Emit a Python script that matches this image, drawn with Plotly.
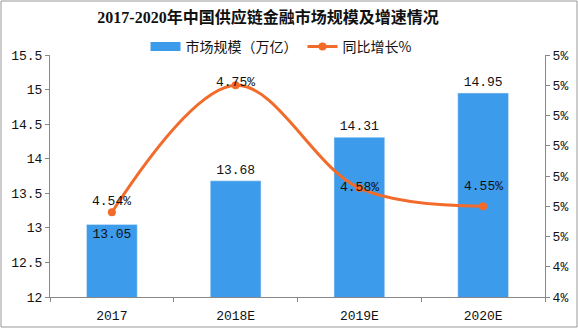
import plotly.graph_objects as go

categories = ["2017", "2018E", "2019E", "2020E"]
market_size = [13.05, 13.68, 14.31, 14.95]
growth = [4.54, 4.75, 4.58, 4.55]
left_ticks = [12, 12.5, 13, 13.5, 14, 14.5, 15, 15.5]
left_ticktext = ["12", "12.5", "13", "13.5", "14", "14.5", "15", "15.5"]
right_ticks = [4.40, 4.45, 4.50, 4.55, 4.60, 4.65, 4.70, 4.75, 4.80]
right_ticktext = ["4%", "4%", "5%", "5%", "5%", "5%", "5%", "5%", "5%"]

W, H = 578, 328
ml, mr, mt, mb = 50, 33, 55, 31

mono = "Liberation Mono, DejaVu Sans Mono, Noto Sans CJK SC"
cjk = "Noto Sans CJK SC"
blue = "#3D9BEB"
orange = "#F26B2A"

fig = go.Figure()
fig.add_trace(go.Bar(
    x=categories, y=market_size, name="市场规模（万亿）",
    marker_color=blue, width=0.41, showlegend=False,
    text=[f"{v:.2f}" for v in market_size],
    textposition=["inside", "outside", "outside", "outside"],
    insidetextanchor="end",
    textfont=dict(family=mono, size=13, color="#111"),
    cliponaxis=False,
))
# legend entry for the bars (wide rectangle swatch)
fig.add_trace(go.Scatter(
    x=categories[:1], y=[None], mode="lines", name="市场规模（万亿）",
    line=dict(color=blue, width=9), hoverinfo="skip",
))
fig.add_trace(go.Scatter(
    x=categories, y=growth, name="同比增长%", yaxis="y2",
    mode="lines+markers",
    line=dict(color=orange, width=3, shape="spline", smoothing=1.0),
    marker=dict(size=8, color=orange),
    cliponaxis=False,
))

label_shift = [11, 3, 1, 20]
for i, (g, s) in enumerate(zip(growth, label_shift)):
    fig.add_annotation(x=i, y=g, xref="x", yref="y2", text=f"{g:.2f}%", showarrow=False,
                       yshift=s, font=dict(family=mono, size=13, color="#111"))

fig.update_layout(
    width=W, height=H,
    margin=dict(l=ml, r=mr, t=mt, b=mb, autoexpand=False),
    paper_bgcolor="white", plot_bgcolor="white",
    title=dict(text="<b>2017-2020年中国供应链金融市场规模及增速情况</b>",
               x=268 / W, xanchor="center", y=1 - 17 / H, yanchor="middle",
               font=dict(family="Liberation Serif, Noto Sans CJK SC", size=16, color="#111")),
    legend=dict(orientation="h", x=(281 - ml) / (W - ml - mr), xanchor="center",
                y=1 + 8 / (H - mt - mb), yanchor="middle",
                font=dict(family=cjk, size=14, color="#111"), bgcolor="rgba(0,0,0,0)",
                itemwidth=30),
    showlegend=True,
    xaxis=dict(type="category", categoryorder="array", categoryarray=categories,
               range=[-0.5, len(categories) - 0.5], automargin=False,
               showline=True, linecolor="#888", linewidth=1,
               ticks="outside", tickson="boundaries", ticklen=4, tickcolor="#888",
               ticklabelstandoff=6, tickangle=0,
               tickfont=dict(family=mono, size=13, color="#111"), showgrid=False),
    yaxis=dict(range=[12, 15.5], tickvals=left_ticks, ticktext=left_ticktext, automargin=False,
               showline=True, linecolor="#888", linewidth=1, ticks="outside", ticklen=4,
               tickcolor="#888", showgrid=False, zeroline=False,
               tickfont=dict(family=mono, size=13, color="#111")),
    yaxis2=dict(range=[4.40, 4.80], tickvals=right_ticks, ticktext=right_ticktext, automargin=False,
                overlaying="y", side="right", showline=True, linecolor="#888", linewidth=1,
                ticks="outside", ticklen=4, tickcolor="#888", showgrid=False, zeroline=False,
                tickfont=dict(family=mono, size=13, color="#111")),
)

pw = W - ml - mr
ph = H - mt - mb
fig.add_shape(type="rect", xref="paper", yref="paper",
              x0=-(ml - 1) / pw, x1=1 + (mr - 1) / pw,
              y0=-(mb - 1) / ph, y1=1 + (mt - 1) / ph,
              line=dict(color="#999", width=1), layer="below")

fig.write_html("out.html")
